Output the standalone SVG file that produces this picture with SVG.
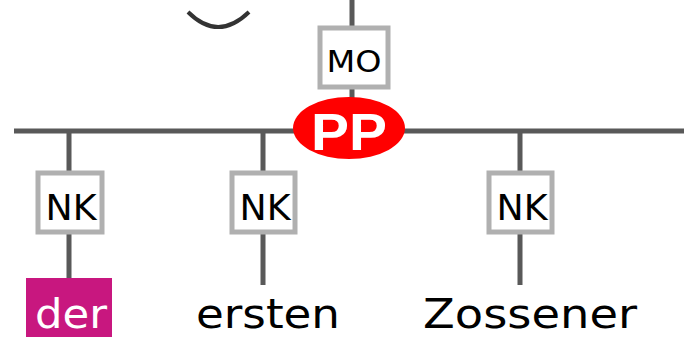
<svg xmlns="http://www.w3.org/2000/svg" width="684" height="337" viewBox="0 0 684 337">
<style>
.ln{stroke:#595959;stroke-width:5;fill:none}
.box{fill:#fff;stroke:#b0b0b0;stroke-width:5}
.lbl{font-family:"DejaVu Sans","Liberation Sans",sans-serif;fill:#000;text-anchor:middle}
.word{font-family:"DejaVu Sans","Liberation Sans",sans-serif;font-size:40px;fill:#000;text-anchor:middle}
</style>
<rect width="684" height="337" fill="#fff"/>
<g id="connectors">
<path class="ln" d="M14 131H684"/>
<path class="ln" d="M352 0V28M352 87V99"/>
<path class="ln" d="M69 131V173M69 232V285"/>
<path class="ln" d="M263 131V173M263 232V285"/>
<path class="ln" d="M520 131V173M520 232V285"/>
</g>
<g id="arc"><path d="M188 12Q218 42 249 12" stroke="#333" stroke-width="4" fill="none"/></g>
<g id="MO"><rect class="box" x="320" y="28" width="68" height="59"/><text class="lbl" x="354" y="72" font-size="31" textLength="55" lengthAdjust="spacingAndGlyphs">MO</text></g>
<g id="PP"><ellipse cx="349" cy="128" rx="56" ry="31" fill="#f00"/><text x="349" y="150" font-family="Liberation Sans,sans-serif" font-weight="bold" font-size="52" fill="#fff" text-anchor="middle" textLength="76" lengthAdjust="spacingAndGlyphs">PP</text></g>
<g id="NK1"><rect class="box" x="38" y="173" width="64" height="59"/><text class="lbl" x="71" y="220" font-size="36" textLength="51" lengthAdjust="spacingAndGlyphs">NK</text></g>
<g id="NK2"><rect class="box" x="232" y="173" width="63" height="59"/><text class="lbl" x="265" y="220" font-size="36" textLength="51" lengthAdjust="spacingAndGlyphs">NK</text></g>
<g id="NK3"><rect class="box" x="489" y="173" width="63" height="59"/><text class="lbl" x="522" y="220" font-size="36" textLength="51" lengthAdjust="spacingAndGlyphs">NK</text></g>
<g id="der"><rect x="26" y="278" width="86" height="59" fill="#c8177f"/><text class="word" x="71" y="328" fill="#fff" style="fill:#fff" textLength="72" lengthAdjust="spacingAndGlyphs">der</text></g>
<g id="ersten"><text class="word" x="268" y="328" textLength="144" lengthAdjust="spacingAndGlyphs">ersten</text></g>
<g id="Zossener"><text class="word" x="530" y="328" textLength="214" lengthAdjust="spacingAndGlyphs">Zossener</text></g>
</svg>
